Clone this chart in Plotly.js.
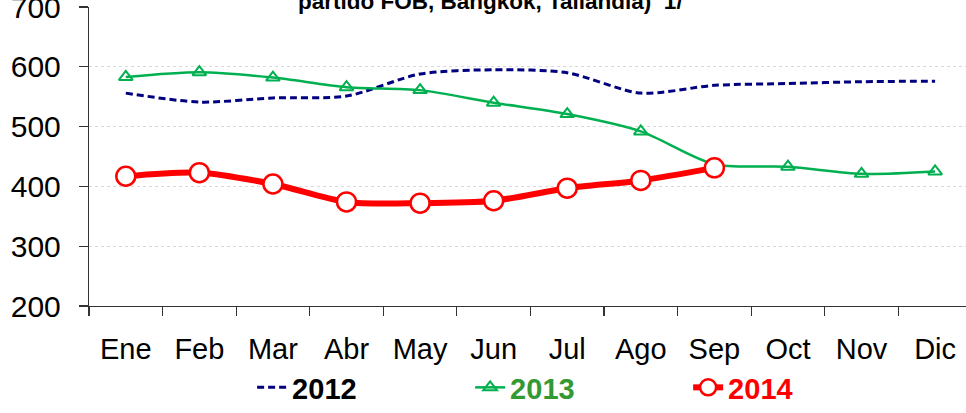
<!DOCTYPE html>
<html>
<head>
<meta charset="utf-8">
<script src="https://cdn.plot.ly/plotly-3.0.1.min.js"></script>
<style>html,body{margin:0;padding:0;background:#fff;}#chart{width:966px;height:413px;}</style>
</head>
<body>
<div id="chart"></div>
<script>
const months = ["Ene","Feb","Mar","Abr","May","Jun","Jul","Ago","Sep","Oct","Nov","Dic"];
const v2012 = [556, 541, 548, 551, 588, 595, 590, 556, 569, 572, 575, 576];
const v2013 = [583, 591, 582, 566, 561, 540, 521, 492, 437, 433, 421, 425];
const v2014 = [417, 423, 404, 374, 372, 376, 397, 410, 431];
const yTicks = [200, 300, 400, 500, 600, 700];
const titleText = "partido FOB, Bangkok, Tailandia)  1/";

const FONT = "'Liberation Sans Narrow', 'Arial Narrow', 'Liberation Sans', Arial, sans-serif";

const traces = [
  {
    x: months, y: v2012, name: "<b>2012</b>", type: "scatter", mode: "lines",
    line: {color: "#000080", width: 3, dash: "7px,4px", shape: "spline", smoothing: 0.8}
  },
  {
    x: months, y: v2013, name: "<b><span style='color:#339933'>2013</span></b>", type: "scatter", mode: "lines+markers",
    line: {color: "#00B050", width: 2.5, shape: "spline", smoothing: 0.8},
    marker: {symbol: "triangle-up-open", size: 12, color: "#00B050", line: {color: "#00B050", width: 2}}
  },
  {
    x: months.slice(0, v2014.length), y: v2014, name: "<b><span style='color:#FF0000'>2014</span></b>", type: "scatter", mode: "lines+markers",
    line: {color: "#FF0000", width: 6, shape: "spline", smoothing: 0.8},
    marker: {symbol: "circle", size: 19, color: "#FFFFFF", line: {color: "#FF0000", width: 2.5}}
  }
];

const layout = {
  width: 966, height: 413,
  margin: {l: 89, r: 0, t: 7, b: 102},
  paper_bgcolor: "#fff", plot_bgcolor: "#fff",
  font: {family: FONT, color: "#000"},
  showlegend: true,
  legend: {
    orientation: "h", x: 0.186, xanchor: "left", y: -0.273, yanchor: "middle",
    font: {family: FONT, size: 29, color: "#000"},
    entrywidth: 173, entrywidthmode: "pixels", bgcolor: "rgba(0,0,0,0)"
  },
  xaxis: {
    type: "category", range: [-0.5, 11.42],
    showline: true, linecolor: "#333", linewidth: 1.2,
    ticks: "outside", tickson: "boundaries", ticklen: 9, tickcolor: "#333", tickwidth: 1.2,
    showgrid: false, zeroline: false, ticklabelstandoff: 17,
    tickfont: {family: FONT, size: 29, color: "#000"}
  },
  yaxis: {
    range: [200, 700], tickvals: yTicks, ticktext: yTicks.map(String),
    showline: true, linecolor: "#333", linewidth: 1.2,
    ticks: "outside", ticklen: 9, tickcolor: "#333", tickwidth: 1.2,
    showgrid: true, gridcolor: "#d9d9d9", griddash: "dot", gridwidth: 1,
    zeroline: false, ticklabelstandoff: 12, ticklabeloverflow: "allow",
    tickfont: {family: FONT, size: 30, color: "#000"}
  },
  annotations: [{
    text: "<b>" + titleText + "</b>", xref: "paper", yref: "paper",
    x: 0.458, y: 1.0197, xanchor: "center", yanchor: "middle", showarrow: false,
    font: {family: FONT, size: 22.5, color: "#000"}
  }]
};

Plotly.newPlot("chart", traces, layout, {displayModeBar: false, staticPlot: true});
</script>
</body>
</html>
